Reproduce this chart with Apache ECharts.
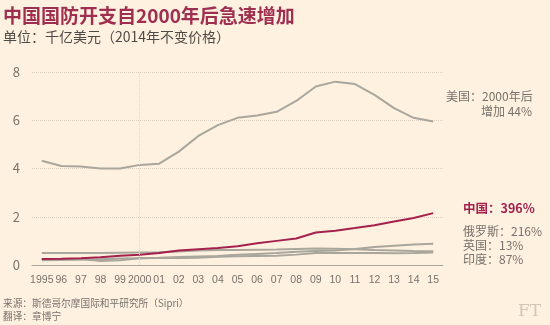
<!DOCTYPE html>
<html><head><meta charset="utf-8">
<script src="https://cdn.jsdelivr.net/npm/echarts@6/dist/echarts.min.js"></script>
<style>html,body{margin:0;padding:0;background:#fff1e0;}#c{width:550px;height:325px;}</style>
</head><body><div id="c"></div>
<script>
var years = ['1995','96','97','98','99','2000','01','02','03','04','05','06','07','08','09','10','11','12','13','14','15'];
var usa    = [4.32,4.10,4.08,4.00,4.00,4.15,4.20,4.70,5.35,5.80,6.10,6.20,6.35,6.80,7.40,7.60,7.50,7.05,6.50,6.10,5.95];
var china  = [0.25,0.26,0.28,0.32,0.38,0.42,0.50,0.60,0.65,0.70,0.78,0.90,1.00,1.10,1.35,1.42,1.53,1.65,1.80,1.95,2.15];
var russia = [0.25,0.24,0.25,0.17,0.20,0.28,0.30,0.33,0.35,0.37,0.42,0.46,0.50,0.55,0.58,0.60,0.66,0.75,0.80,0.85,0.88];
var uk     = [0.50,0.50,0.50,0.50,0.51,0.52,0.53,0.56,0.60,0.62,0.62,0.63,0.64,0.66,0.68,0.67,0.65,0.62,0.60,0.58,0.57];
var india  = [0.20,0.21,0.23,0.24,0.27,0.28,0.29,0.29,0.30,0.34,0.36,0.37,0.38,0.43,0.50,0.50,0.50,0.50,0.49,0.50,0.52];
var yTicks = [0,2,4,6,8];

var GRAY='#a9a69c', RED='#a3214c', TXT='#77726b', FONT='"Noto Sans CJK SC","Noto Sans",sans-serif';
var LAT='"Liberation Sans",sans-serif';
function line(name,data,color,z){return {name:name,type:'line',data:data,symbol:'none',smooth:false,z:z,
  lineStyle:{color:color,width:2},itemStyle:{color:color},silent:true};}
var chart = echarts.init(document.getElementById('c'));
var s0 = line('美国',usa,GRAY,2);
s0.markLine = {silent:true,symbol:'none',label:{show:false},lineStyle:{color:'#e2d6c6',type:'dotted',width:1},data:[{xAxis:'2000'}]};
chart.setOption({
  backgroundColor:'#fff1e0',
  animation:false,
  textStyle:{fontFamily:FONT},
  grid:{left:32,right:107,top:72,bottom:60},
  xAxis:{type:'category',data:years,boundaryGap:true,
    axisLine:{lineStyle:{color:'#a9a69c',width:1}},
    axisTick:{alignWithLabel:true,length:5,lineStyle:{color:'#a9a69c'}},
    axisLabel:{interval:0,color:TXT,fontSize:10.5,margin:10,fontFamily:LAT},
    splitLine:{show:false}},
  yAxis:{type:'value',min:yTicks[0],max:yTicks[yTicks.length-1],interval:2,
    axisLine:{show:false},axisTick:{show:false},
    axisLabel:{color:TXT,fontSize:13,margin:12,fontFamily:FONT},
    splitLine:{lineStyle:{color:'#dcd0c0',type:'dotted',width:1}}},
  series:[s0,line('印度',india,GRAY,2),line('英国',uk,GRAY,2),line('俄罗斯',russia,GRAY,2),line('中国',china,RED,3)],
  graphic:[
    {type:'text',left:3,top:6,style:{text:'中国国防开支自2000年后急速增加',font:'bold 19px '+FONT,fill:'#9e2f50'}},
    {type:'text',left:3,top:30,style:{text:'单位：千亿美元（2014年不变价格）',font:'14px '+FONT,fill:'#4f4a45'}},
    {type:'text',left:446,top:90,style:{text:'美国：2000年后',font:'12px '+FONT,fill:TXT}},
    {type:'text',left:481,top:105,style:{text:'增加 44%',font:'12px '+FONT,fill:TXT}},
    {type:'text',left:463,top:202,style:{text:'中国：396%',font:'bold 12.5px '+FONT,fill:RED}},
    {type:'text',left:463,top:225,style:{text:'俄罗斯：216%',font:'12px '+FONT,fill:TXT}},
    {type:'text',left:463,top:239,style:{text:'英国：13%',font:'12px '+FONT,fill:TXT}},
    {type:'text',left:463,top:253,style:{text:'印度：87%',font:'12px '+FONT,fill:TXT}},
    {type:'text',left:3,top:298,style:{text:'来源：斯德哥尔摩国际和平研究所（Sipri）',font:'9.7px '+FONT,fill:TXT}},
    {type:'text',left:3,top:311,style:{text:'翻译：章博宁',font:'9.7px '+FONT,fill:TXT}},
    {type:'text',left:518,top:303,style:{text:'FT',font:'17px "DejaVu Serif",serif',fill:'#d2c6b8'}}
  ]
});
</script></body></html>
